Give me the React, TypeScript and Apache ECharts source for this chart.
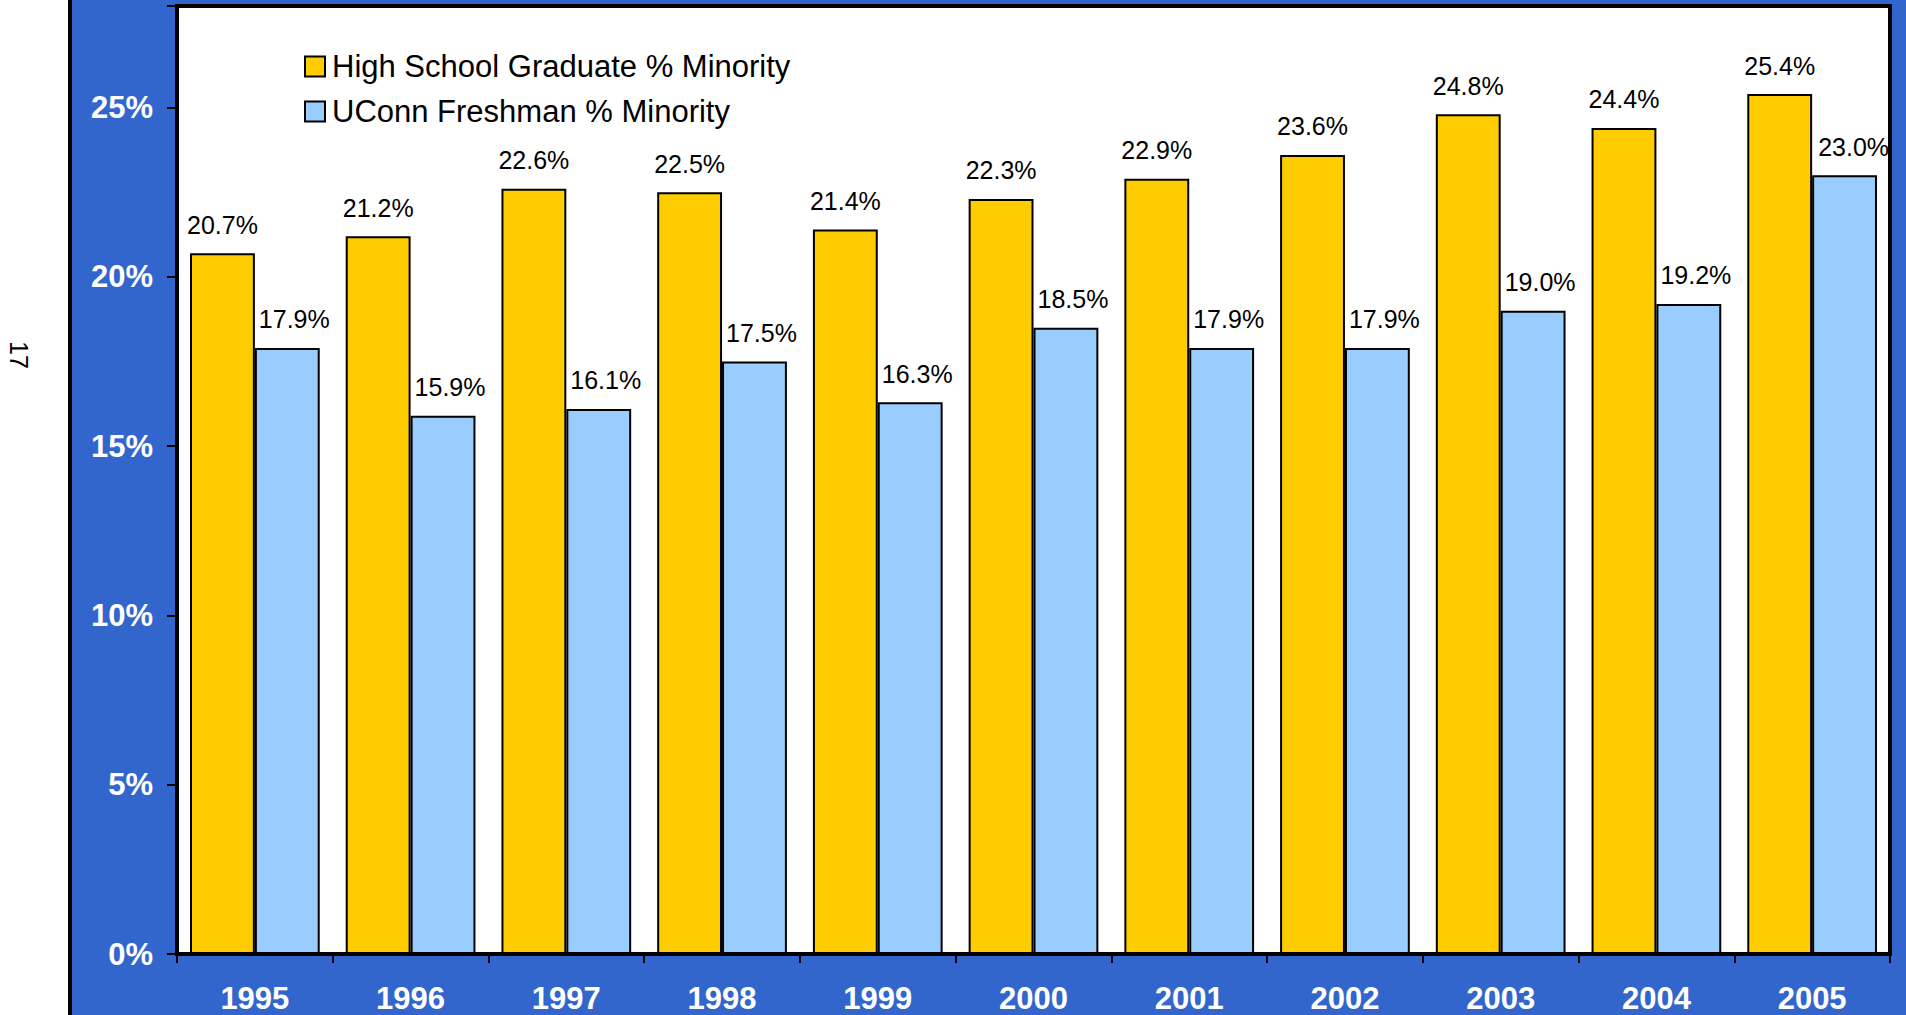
import React, { useEffect, useRef } from "react";
import * as echarts from "echarts";

const years = ["1995", "1996", "1997", "1998", "1999", "2000", "2001", "2002", "2003", "2004", "2005"];
const highSchool = [20.7, 21.2, 22.6, 22.5, 21.4, 22.3, 22.9, 23.6, 24.8, 24.4, 25.4];
const uconn = [17.9, 15.9, 16.1, 17.5, 16.3, 18.5, 17.9, 17.9, 19.0, 19.2, 23.0];
const seriesNames = ["High School Graduate % Minority", "UConn Freshman % Minority"];
const pageNumber = "17";

const FONT = "'Liberation Sans', Arial, Helvetica, sans-serif";

export default function App() {
  const ref = useRef<HTMLDivElement>(null);
  useEffect(() => {
    if (!ref.current) return;
    const chart = echarts.init(ref.current, null, { renderer: "svg" });
    const labelStyle = {
      show: true,
      position: "top" as const,
      distance: 16,
      color: "#000",
      fontSize: 25,
      fontFamily: FONT,
      formatter: (p: any) => p.value.toFixed(1) + "%",
    };
    const uconnData = uconn.map((v, i) =>
      i === uconn.length - 1 ? { value: v, label: { offset: [9, 0] } } : v
    );
    chart.setOption({
      animation: false,
      backgroundColor: "#3366CC",
      textStyle: { fontFamily: FONT },
      graphic: [
        {
          type: "rect",
          shape: { x: -10, y: -10, width: 80, height: 1040 },
          style: { fill: "#ffffff", stroke: "#000", lineWidth: 4 },
        },
        {
          type: "text",
          x: 19,
          y: 355,
          rotation: -Math.PI / 2,
          style: {
            text: pageNumber,
            fill: "#000",
            font: `25px ${FONT}`,
            align: "center",
            verticalAlign: "middle",
          },
        },
      ],
      grid: {
        left: 177,
        right: 16,
        top: 6,
        bottom: 61,
        show: true,
        backgroundColor: "#ffffff",
        borderColor: "#000",
        borderWidth: 4,
        containLabel: false,
      },
      legend: {
        orient: "vertical",
        left: 299,
        top: 46,
        itemWidth: 20,
        itemHeight: 20,
        itemGap: 14,
        icon: "rect",
        textStyle: { fontSize: 31, color: "#000", fontFamily: FONT, padding: [0, 0, 0, 2] },
        itemStyle: { borderColor: "#000", borderWidth: 2 },
        data: seriesNames,
      },
      xAxis: {
        type: "category",
        data: years,
        axisLine: { show: true, lineStyle: { color: "#000", width: 4 } },
        axisTick: { show: true, length: 9, lineStyle: { color: "#000", width: 2 } },
        axisLabel: {
          color: "#fff",
          fontSize: 31,
          lineHeight: 24,
          fontWeight: "bold",
          fontFamily: FONT,
          margin: 32,
        },
      },
      yAxis: {
        type: "value",
        min: 0,
        max: 28,
        interval: 5,
        splitLine: { show: false },
        axisLine: { show: true, lineStyle: { color: "#000", width: 4 } },
        axisTick: { show: true, length: 10, lineStyle: { color: "#000", width: 2 } },
        axisLabel: {
          color: "#fff",
          fontSize: 31,
          fontWeight: "bold",
          fontFamily: FONT,
          margin: 24,
          formatter: (v: number) => (v % 5 === 0 ? v + "%" : ""),
        },
      },
      series: [
        {
          name: seriesNames[0],
          type: "bar",
          data: highSchool,
          barGap: "0%",
          barCategoryGap: "16.7%",
          itemStyle: { color: "#FFCC00", borderColor: "#000", borderWidth: 2 },
          label: labelStyle,
        },
        {
          name: seriesNames[1],
          type: "bar",
          data: uconnData,
          barGap: "0%",
          barCategoryGap: "16.7%",
          itemStyle: { color: "#99CCFF", borderColor: "#000", borderWidth: 2 },
          label: { ...labelStyle, offset: [7, 0] },
        },
      ],
    });
    return () => chart.dispose();
  }, []);
  return (
    <div
      ref={ref}
      style={{ position: "fixed", left: 0, top: 0, width: 1906, height: 1015 }}
    />
  );
}
